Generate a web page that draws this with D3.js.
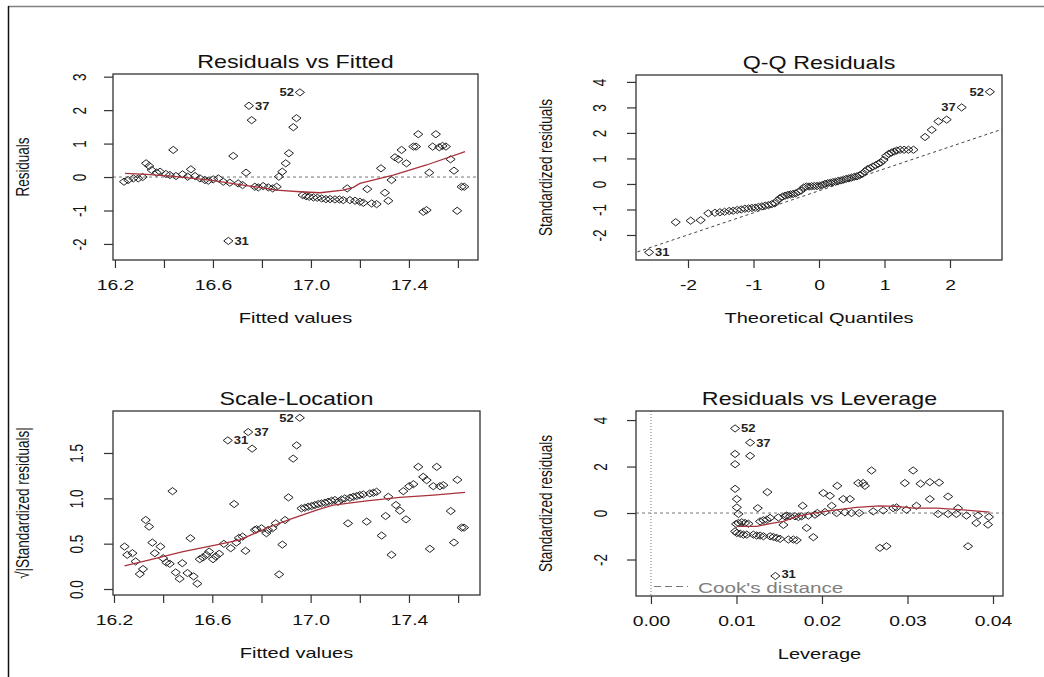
<!DOCTYPE html>
<html>
<head>
<meta charset="utf-8">
<script src="https://cdn.jsdelivr.net/npm/d3@7"></script>
<style>
  body { margin: 0; background: #fff; }
  svg { display: block; font-family: "Liberation Sans", Arial, sans-serif; }
</style>
</head>
<body>
<script>
// ---- Residuals vs Fitted ----
const fittedX = [16.237,16.254,16.275,16.295,16.313,16.327,16.340,16.350,16.370,16.384,16.408,16.424,16.438,16.449,16.476,16.497,16.510,16.527,16.547,16.567,16.581,16.601,16.622,16.642,16.663,16.669,16.683,16.703,16.721,16.735,16.747,16.758,16.771,16.785,16.805,16.826,16.844,16.860,16.869,16.883,16.897,16.910,16.928,16.941,16.955,16.966,16.980,16.993,17.010,17.026,17.044,17.061,17.078,17.098,17.116,17.132,17.148,17.159,17.180,17.200,17.214,17.230,17.248,17.268,17.286,17.302,17.316,17.329,17.343,17.357,17.370,17.390,17.418,17.429,17.438,17.459,17.472,17.483,17.497,17.510,17.524,17.537,17.551,17.570,17.584,17.597,17.615,17.626];
const residY = [-0.14,-0.09,-0.04,-0.04,0.00,0.41,0.33,0.21,0.13,0.16,0.09,0.06,0.81,0.03,0.08,0.01,0.23,0.03,-0.04,-0.09,-0.11,-0.07,-0.04,-0.14,-1.91,-0.17,0.63,-0.19,-0.24,0.13,2.13,1.70,-0.29,-0.31,-0.27,-0.31,-0.34,-0.29,0.01,0.16,0.41,0.71,1.49,1.76,2.53,-0.54,-0.57,-0.59,-0.61,-0.62,-0.64,-0.66,-0.66,-0.67,-0.67,-0.69,-0.34,-0.69,-0.71,-0.74,-0.77,-0.36,-0.79,-0.81,0.26,-0.47,-0.71,-0.09,0.59,0.53,0.81,0.41,0.91,0.91,1.28,-1.04,-0.99,0.13,0.91,1.28,0.89,0.93,0.91,0.53,0.19,-1.01,-0.29,-0.29];
const rvfSmoothX = [16.241,16.329,16.452,16.588,16.724,16.860,16.955,17.037,17.132,17.173,17.200,17.336,17.472,17.629];
const rvfSmoothY = [0.11,0.08,0.01,-0.09,-0.24,-0.39,-0.44,-0.47,-0.39,-0.31,-0.19,0.06,0.36,0.76];
const rvfLabelIds = ["52", "37", "31"];
const rvfLabelAt = [44, 30, 24];

// ---- Q-Q Residuals ----
const qqX = [-2.594,-2.188,-1.959,-1.807,-1.690,-1.589,-1.513,-1.442,-1.371,-1.310,-1.249,-1.188,-1.132,-1.076,-1.025,-0.975,-0.924,-0.873,-0.822,-0.772,-0.721,-0.675,-0.640,-0.599,-0.558,-0.518,-0.477,-0.437,-0.396,-0.355,-0.315,-0.274,-0.234,-0.193,-0.152,-0.112,-0.071,-0.030,0.010,0.051,0.091,0.132,0.173,0.213,0.254,0.294,0.335,0.376,0.416,0.457,0.497,0.538,0.579,0.619,0.660,0.701,0.741,0.782,0.822,0.863,0.904,0.944,0.985,1.025,1.066,1.107,1.147,1.188,1.239,1.299,1.365,1.442,1.619,1.721,1.822,1.949,2.178,2.609];
const qqY = [-2.68,-1.50,-1.44,-1.42,-1.15,-1.13,-1.11,-1.09,-1.06,-1.05,-1.02,-1.00,-0.97,-0.96,-0.94,-0.93,-0.90,-0.88,-0.85,-0.83,-0.79,-0.76,-0.66,-0.56,-0.50,-0.46,-0.43,-0.41,-0.39,-0.37,-0.31,-0.26,-0.14,-0.10,-0.10,-0.09,-0.08,-0.08,-0.07,-0.04,0.00,0.03,0.05,0.07,0.09,0.12,0.14,0.17,0.20,0.22,0.25,0.28,0.30,0.34,0.39,0.49,0.58,0.62,0.68,0.73,0.79,0.84,0.94,1.10,1.18,1.23,1.27,1.31,1.34,1.34,1.34,1.34,1.84,2.12,2.45,2.52,3.00,3.61];
const qqLineX = [-2.772, 2.802];
const qqLineY = [-2.66, 2.15];
const qqLabelIds = ["31", "37", "52"];
const qqLabelAt = [0, 76, 77];

// ---- Scale-Location ----
const slX = [16.243,16.254,16.275,16.288,16.305,16.318,16.329,16.343,16.356,16.366,16.389,16.400,16.413,16.427,16.438,16.451,16.467,16.478,16.499,16.511,16.524,16.539,16.549,16.562,16.576,16.587,16.603,16.614,16.628,16.647,16.663,16.675,16.689,16.698,16.708,16.723,16.735,16.746,16.762,16.773,16.780,16.800,16.820,16.827,16.845,16.858,16.872,16.885,16.896,16.910,16.929,16.943,16.956,16.963,16.976,16.990,17.004,17.017,17.031,17.044,17.058,17.071,17.085,17.099,17.112,17.126,17.139,17.152,17.160,17.173,17.187,17.200,17.214,17.228,17.241,17.255,17.268,17.289,17.305,17.316,17.329,17.347,17.363,17.377,17.388,17.401,17.418,17.438,17.458,17.472,17.485,17.499,17.513,17.526,17.540,17.570,17.583,17.597,17.614,17.624];
const slY = [0.468,0.377,0.395,0.304,0.165,0.220,0.761,0.688,0.512,0.395,0.468,0.340,0.293,0.278,1.079,0.183,0.113,0.285,0.176,0.560,0.139,0.059,0.329,0.348,0.377,0.413,0.329,0.359,0.388,0.498,1.639,0.450,0.937,0.512,0.563,0.578,0.421,1.731,1.548,0.651,0.659,0.670,0.615,0.651,0.670,0.724,0.161,0.490,0.761,1.010,1.438,1.584,1.888,0.889,0.896,0.907,0.915,0.926,0.937,0.944,0.951,0.962,0.973,0.981,0.962,0.988,0.999,0.724,1.006,1.017,1.025,1.036,1.043,0.743,1.054,1.061,1.072,0.589,0.805,1.017,0.377,0.926,0.864,1.079,0.768,1.134,1.156,1.347,1.237,1.200,0.443,1.134,1.347,1.134,1.145,0.860,0.512,1.204,0.677,0.677];
const slSmoothX = [16.243,16.345,16.481,16.617,16.712,16.820,16.915,17.024,17.092,17.228,17.363,17.499,17.628];
const slSmoothY = [0.256,0.322,0.413,0.487,0.542,0.670,0.768,0.871,0.926,0.973,1.010,1.035,1.065];
const slLabelIds = ["52", "37", "31"];
const slLabelAt = [52, 37, 30];

// ---- Residuals vs Leverage ----
const levX = [0.00984,0.00984,0.00984,0.00984,0.01004,0.01004,0.01023,0.00996,0.01023,0.01062,0.01101,0.01140,0.00984,0.01004,0.01043,0.01082,0.01121,0.01160,0.01455,0.01160,0.01198,0.01237,0.01249,0.01276,0.01315,0.01276,0.01315,0.01354,0.01362,0.01393,0.01393,0.01432,0.01471,0.01490,0.01510,0.01549,0.01568,0.01588,0.01607,0.01626,0.01665,0.01685,0.01704,0.01724,0.01763,0.01774,0.01821,0.01840,0.01899,0.01918,0.01946,0.02016,0.02035,0.02093,0.02113,0.02171,0.02179,0.02249,0.02268,0.02327,0.02346,0.02424,0.02436,0.02482,0.02502,0.02580,0.02599,0.02677,0.02716,0.02755,0.02833,0.02872,0.02969,0.02988,0.03066,0.03105,0.03152,0.03261,0.03261,0.03358,0.03370,0.03475,0.03475,0.03572,0.03591,0.03689,0.03708,0.03805,0.03825,0.03942,0.03953];
const levY = [3.64,2.54,2.10,1.04,0.60,0.24,-0.04,-0.47,-0.43,-0.40,-0.43,-0.46,-0.79,-0.86,-0.89,-0.93,-0.93,3.03,-2.71,2.46,-0.93,-0.97,0.21,-0.97,-1.00,-0.36,-0.31,-0.29,0.90,-0.21,-1.00,-1.03,-1.07,-0.19,-1.11,-0.51,-0.14,-0.11,-1.14,-0.14,-1.14,-0.14,-1.17,-0.17,-0.14,0.31,-0.64,-0.11,-1.04,-0.07,0.00,0.86,0.04,0.74,0.31,0.00,1.17,0.60,0.03,0.60,0.00,1.29,0.00,1.29,1.17,1.83,0.07,-1.50,0.11,-1.43,0.21,0.24,1.29,0.14,1.83,0.31,1.26,0.60,1.33,-0.04,1.31,-0.04,0.71,-0.04,0.21,-0.11,-1.43,-0.43,-0.11,-0.50,-0.17];
const levSmoothX = [0.01004,0.01237,0.01393,0.01549,0.01704,0.01899,0.02016,0.02171,0.02405,0.02677,0.02872,0.03066,0.03339,0.03650,0.03961];
const levSmoothY = [-0.57,-0.57,-0.46,-0.36,-0.14,0.00,0.06,0.14,0.24,0.31,0.29,0.21,0.21,0.14,0.04];
const levLabelIds = ["52", "37", "31"];
const levLabelAt = [0, 17, 18];

// ---- axis ticks ----
const fitTicks = [16.2, 16.4, 16.6, 16.8, 17.0, 17.2, 17.4, 17.6];
const fitTickLabels = ["16.2", "", "16.6", "", "17.0", "", "17.4", ""];
const rvfYTicks = [-2, -1, 0, 1, 2, 3];
const rvfYTickLabels = ["-2", "-1", "0", "1", "2", "3"];
const qqXTicks = [-2, -1, 0, 1, 2];
const qqXTickLabels = ["-2", "-1", "0", "1", "2"];
const qqYTicks = [-2, -1, 0, 1, 2, 3, 4];
const qqYTickLabels = ["-2", "-1", "0", "1", "2", "3", "4"];
const slYTicks = [0, 0.5, 1.0, 1.5];
const slYTickLabels = ["0.0", "0.5", "1.0", "1.5"];
const levXTicks = [0, 0.01, 0.02, 0.03, 0.04];
const levXTickLabels = ["0.00", "0.01", "0.02", "0.03", "0.04"];
const levYTicks = [-2, 0, 2, 4];
const levYTickLabels = ["-2", "0", "2", "4"];

const SX = 1.38;   // horizontal stretch of the original picture

const svg = d3.select('body')
    .append('svg')
    .attr('width', 1044)
    .attr('height', 677);

// outer frame (top and left edges only)
svg.append('line').attr('x1', 8).attr('x2', 1044).attr('y1', 6.5).attr('y2', 6.5)
    .attr('stroke', '#808080').attr('stroke-width', 1.5);
svg.append('line').attr('x1', 8.5).attr('x2', 8.5).attr('y1', 6).attr('y2', 677)
    .attr('stroke', '#111').attr('stroke-width', 1.5);

function addText(g, str, x, y, o) {
    return g.append('text')
        .text(str)
        .attr('transform', `translate(${x},${y}) scale(${o.sx || SX},1)` + (o.rot ? ' rotate(-90)' : ''))
        .attr('text-anchor', o.anchor || 'middle')
        .attr('font-size', o.size)
        .attr('font-weight', o.weight || 'normal')
        .attr('fill', o.fill || '#111');
}

const diamond = 'M0,-3.6L4.6,0L0,3.6L-4.6,0Z';

function drawPanel(p, idx) {
    const b = p.box;
    const g = svg.append('g');
    const x = d3.scaleLinear().domain(p.xDomain).range([b.x0, b.x1]);
    const y = d3.scaleLinear().domain(p.yDomain).range([b.y1, b.y0]);

    const clipId = 'clip' + idx;
    g.append('clipPath').attr('id', clipId).append('rect')
        .attr('x', b.x0).attr('y', b.y0).attr('width', b.x1 - b.x0).attr('height', b.y1 - b.y0);
    const inner = g.append('g').attr('clip-path', `url(#${clipId})`);

    // reference lines
    if (p.zeroLine) {
        inner.append('line')
            .attr('x1', b.x0).attr('x2', b.x1).attr('y1', y(0)).attr('y2', y(0))
            .attr('stroke', '#777').attr('stroke-width', 1).attr('stroke-dasharray', '3,3');
    }
    if (p.vZero) {
        inner.append('line')
            .attr('x1', x(0)).attr('x2', x(0)).attr('y1', b.y0).attr('y2', b.y1)
            .attr('stroke', '#777').attr('stroke-width', 1).attr('stroke-dasharray', '1,2');
    }
    if (p.refX) {
        inner.append('line')
            .attr('x1', x(p.refX[0])).attr('x2', x(p.refX[1]))
            .attr('y1', y(p.refY[0])).attr('y2', y(p.refY[1]))
            .attr('stroke', '#444').attr('stroke-width', 1).attr('stroke-dasharray', '3,3');
    }

    // points
    const pts = p.xs.map((v, i) => [v, p.ys[i]]);
    inner.selectAll('path.pt').data(pts).enter().append('path')
        .attr('class', 'pt')
        .attr('d', diamond)
        .attr('transform', d => `translate(${x(d[0])},${y(d[1])})`)
        .attr('fill', 'none').attr('stroke', '#222').attr('stroke-width', 1);

    // smoother
    if (p.smoothX) {
        const sm = p.smoothX.map((v, i) => [v, p.smoothY[i]]);
        inner.append('path')
            .attr('d', d3.line().x(d => x(d[0])).y(d => y(d[1]))(sm))
            .attr('fill', 'none').attr('stroke', '#a8323a').attr('stroke-width', 1.3);
    }

    // labels of extreme points
    p.labelIds.forEach((id, k) => {
        const i = p.labelAt[k];
        const left = p.labelSide[k] === 'left';
        const dy = (p.labelDy && p.labelDy[k]) || 4;
        addText(g, id, x(p.xs[i]) + (left ? -6 : 6), y(p.ys[i]) + dy,
            {size: 10, anchor: left ? 'end' : 'start', fill: '#222', weight: 'bold', sx: 1.3});
    });

    // box
    g.append('rect')
        .attr('x', b.x0).attr('y', b.y0).attr('width', b.x1 - b.x0).attr('height', b.y1 - b.y0)
        .attr('fill', 'none').attr('stroke', '#333').attr('stroke-width', 1.3);

    // x axis
    const gx = g.append('g').attr('transform', `translate(0,${b.y1})`)
        .call(d3.axisBottom(x).tickValues(p.xTicks).tickFormat((d, i) => p.xTickLabels[i])
            .tickSize(8).tickSizeOuter(0));
    gx.attr('font-family', null).attr('font-size', null);
    gx.select('.domain').remove();
    gx.selectAll('line').attr('stroke', '#333').attr('stroke-width', 1.2);
    gx.selectAll('text')
        .attr('y', null).attr('dy', null).attr('fill', '#111').attr('font-size', 14)
        .attr('transform', `translate(0,30) scale(${SX},1)`);

    // y axis
    const gy = g.append('g').attr('transform', `translate(${b.x0},0)`)
        .call(d3.axisLeft(y).tickValues(p.yTicks).tickFormat((d, i) => p.yTickLabels[i])
            .tickSize(9).tickSizeOuter(0));
    gy.attr('font-family', null).attr('font-size', null);
    gy.select('.domain').remove();
    gy.selectAll('line').attr('stroke', '#333').attr('stroke-width', 1.2);
    gy.selectAll('text')
        .attr('x', null).attr('dy', null).attr('fill', '#111').attr('font-size', 13.5)
        .attr('text-anchor', 'middle')
        .attr('transform', `translate(-${p.yTickOff},0) scale(${SX},1) rotate(-90)`);

    // titles
    const cx = (b.x0 + b.x1) / 2, cy = (b.y0 + b.y1) / 2;
    addText(g, p.title, cx, b.y0 - 6, {size: 17.5, sx: 1.33});
    addText(g, p.xTitle, cx, b.y1 + 63, {size: 14.5});
    addText(g, p.yTitle, b.x0 - 84, cy, {size: 13.5, rot: true});

    if (p.legend) {
        g.append('line')
            .attr('x1', b.x0 + 18).attr('x2', b.x0 + 52)
            .attr('y1', b.y1 - 9.5).attr('y2', b.y1 - 9.5)
            .attr('stroke', '#777').attr('stroke-width', 1.2).attr('stroke-dasharray', '7,4');
        addText(g, p.legend, b.x0 + 62, b.y1 - 3, {size: 15, anchor: 'start', fill: '#808080'});
    }
}

const panels = [
    {
        box: {x0: 113, x1: 478, y0: 74, y1: 260},
        xDomain: [16.192, 17.682], yDomain: [-2.48, 3.08],
        xs: fittedX, ys: residY, smoothX: rvfSmoothX, smoothY: rvfSmoothY,
        xTicks: fitTicks, xTickLabels: fitTickLabels,
        yTicks: rvfYTicks, yTickLabels: rvfYTickLabels, yTickOff: 27,
        zeroLine: true,
        labelIds: rvfLabelIds, labelAt: rvfLabelAt, labelSide: ['left', 'right', 'right'],
        title: 'Residuals vs Fitted', xTitle: 'Fitted values', yTitle: 'Residuals'
    },
    {
        box: {x0: 636, x1: 1002, y0: 75, y1: 260},
        xDomain: [-2.794, 2.794], yDomain: [-2.98, 4.27],
        xs: qqX, ys: qqY, refX: qqLineX, refY: qqLineY,
        xTicks: qqXTicks, xTickLabels: qqXTickLabels,
        yTicks: qqYTicks, yTickLabels: qqYTickLabels, yTickOff: 30,
        labelIds: qqLabelIds, labelAt: qqLabelAt, labelSide: ['right', 'left', 'left'],
        title: 'Q-Q Residuals', xTitle: 'Theoretical Quantiles', yTitle: 'Standardized residuals'
    },
    {
        box: {x0: 113, x1: 480, y0: 411, y1: 595},
        xDomain: [16.196, 17.689], yDomain: [-0.066, 1.963],
        xs: slX, ys: slY, smoothX: slSmoothX, smoothY: slSmoothY,
        xTicks: fitTicks, xTickLabels: fitTickLabels,
        yTicks: slYTicks, yTickLabels: slYTickLabels, yTickOff: 30,
        labelIds: slLabelIds, labelAt: slLabelAt, labelSide: ['left', 'right', 'right'],
        title: 'Scale-Location', xTitle: 'Fitted values', yTitle: '\u221A|Standardized residuals|'
    },
    {
        box: {x0: 636, x1: 1003, y0: 411, y1: 596},
        xDomain: [-0.00175, 0.04117], yDomain: [-3.57, 4.39],
        xs: levX, ys: levY, smoothX: levSmoothX, smoothY: levSmoothY,
        xTicks: levXTicks, xTickLabels: levXTickLabels,
        yTicks: levYTicks, yTickLabels: levYTickLabels, yTickOff: 29,
        zeroLine: true, vZero: true,
        labelIds: levLabelIds, labelAt: levLabelAt, labelSide: ['right', 'right', 'right'],
        labelDy: [4, 4, 2],
        title: 'Residuals vs Leverage', xTitle: 'Leverage', yTitle: 'Standardized residuals',
        legend: "Cook's distance"
    }
];

panels.forEach(drawPanel);
</script>
</body>
</html>
